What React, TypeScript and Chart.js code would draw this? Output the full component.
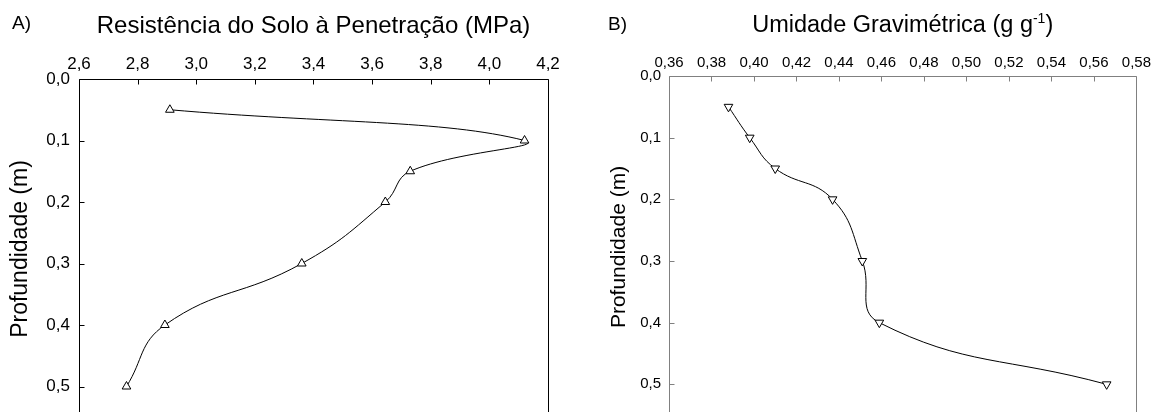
import React, { useEffect, useRef } from 'react';
import { Chart, registerables } from 'chart.js';

Chart.register(...registerables);

// ---------- data ----------
const depths = [0.05, 0.1, 0.15, 0.2, 0.3, 0.4, 0.5];
const resistance = [2.91, 4.12, 3.73, 3.645, 3.36, 2.893, 2.762];
const moisture = [0.388, 0.398, 0.41, 0.437, 0.451, 0.459, 0.566];

const depthTicks = [0, 0.1, 0.2, 0.3, 0.4, 0.5, 0.6];
const resistanceTicks = [2.6, 2.8, 3.0, 3.2, 3.4, 3.6, 3.8, 4.0, 4.2];
const moistureTicks = [0.36, 0.38, 0.4, 0.42, 0.44, 0.46, 0.48, 0.5, 0.52, 0.54, 0.56, 0.58];

const panelLabelA = 'A)';
const panelLabelB = 'B)';
const titleA = 'Resistência do Solo à Penetração (MPa)';
const titleBMain = 'Umidade Gravimétrica (g g';
const titleBSup = '-1';
const titleBEnd = ')';
const depthTitle = 'Profundidade (m)';

const FONT = '"Liberation Sans", Arial, Helvetica, sans-serif';

const fmt = (d: number) => (v: number | string) => Number(v).toFixed(d).replace('.', ',');

type Spec = {
  xs: number[];
  xTicks: number[];
  xDec: number;
  width: number;
  height: number;
  area: { left: number; top: number; right: number; bottom: number };
  tickFont: number;
  frameColor: string;
  rotation: number;
  xPad: number;
  yPad: number;
  drawText: (ctx: CanvasRenderingContext2D, a: any) => void;
};

function makeConfig(s: Spec): any {
  const frame = {
    id: 'frame',
    afterDatasetsDraw(chart: any) {
      const { ctx, chartArea: a, scales } = chart;
      ctx.save();
      ctx.strokeStyle = s.frameColor;
      ctx.lineWidth = 1;
      const L = Math.round(a.left) + 0.5;
      const T = Math.round(a.top) + 0.5;
      const R = Math.round(a.right) + 0.5;
      const B = Math.round(a.bottom) + 0.5;
      ctx.beginPath();
      ctx.moveTo(L, B);
      ctx.lineTo(L, T);
      ctx.lineTo(R, T);
      ctx.lineTo(R, B);
      ctx.lineTo(L, B);
      for (const v of s.xTicks) {
        const px = Math.round(scales.x.getPixelForValue(v)) + 0.5;
        ctx.moveTo(px, T);
        ctx.lineTo(px, T + 5);
      }
      for (const v of depthTicks) {
        const py = Math.round(scales.y.getPixelForValue(v)) + 0.5;
        ctx.moveTo(L, py);
        ctx.lineTo(L + 5, py);
      }
      ctx.stroke();
      ctx.restore();
    },
  };
  const texts = {
    id: 'texts',
    afterDraw(chart: any) {
      const { ctx, chartArea } = chart;
      ctx.save();
      ctx.fillStyle = '#000';
      s.drawText(ctx, chartArea);
      ctx.restore();
    },
  };
  const a = s.area;
  return {
    type: 'scatter',
    data: {
      datasets: [
        {
          data: s.xs.map((x, i) => ({ x, y: depths[i] })),
          showLine: true,
          tension: 0.45,
          borderColor: '#000',
          borderWidth: 1,
          pointStyle: 'triangle',
          pointRadius: 5,
          pointHoverRadius: 5,
          pointRotation: s.rotation,
          pointBackgroundColor: '#fff',
          pointBorderColor: '#000',
          pointBorderWidth: 1,
        },
      ],
    },
    options: {
      animation: false,
      responsive: false,
      devicePixelRatio: 1,
      events: [],
      layout: {
        padding: { left: 0, top: 0, right: s.width - a.right, bottom: s.height - a.bottom },
      },
      plugins: { legend: { display: false }, tooltip: { enabled: false }, title: { display: false } },
      scales: {
        x: {
          type: 'linear',
          position: 'top',
          min: s.xTicks[0],
          max: s.xTicks[s.xTicks.length - 1],
          afterBuildTicks: (sc: any) => {
            sc.ticks = s.xTicks.map((v) => ({ value: v }));
          },
          afterFit: (sc: any) => {
            sc.height = a.top;
          },
          grid: { display: false, drawTicks: false },
          border: { display: false },
          ticks: {
            autoSkip: false,
            maxRotation: 0,
            padding: s.xPad,
            color: '#000',
            font: { family: FONT, size: s.tickFont },
            callback: fmt(s.xDec),
          },
        },
        y: {
          type: 'linear',
          position: 'left',
          reverse: true,
          min: 0,
          max: 0.6,
          afterBuildTicks: (sc: any) => {
            sc.ticks = depthTicks.map((v) => ({ value: v }));
          },
          afterFit: (sc: any) => {
            sc.width = a.left;
          },
          grid: { display: false, drawTicks: false },
          border: { display: false },
          ticks: {
            autoSkip: false,
            padding: s.yPad,
            color: '#000',
            font: { family: FONT, size: s.tickFont },
            callback: fmt(1),
          },
        },
      },
    },
    plugins: [frame, texts],
  };
}

function drawVertical(ctx: CanvasRenderingContext2D, text: string, baselineX: number, centerY: number, size: number) {
  ctx.save();
  ctx.translate(baselineX, centerY);
  ctx.rotate(-Math.PI / 2);
  ctx.font = `${size}px ${FONT}`;
  ctx.textAlign = 'center';
  ctx.textBaseline = 'alphabetic';
  ctx.fillText(text, 0, 0);
  ctx.restore();
}

const specA: Spec = {
  xs: resistance,
  xTicks: resistanceTicks,
  xDec: 1,
  width: 580,
  height: 470,
  area: { left: 79, top: 79, right: 548, bottom: 448 },
  tickFont: 17,
  frameColor: '#000',
  rotation: 0,
  xPad: 4,
  yPad: 9,
  drawText: (ctx, a) => {
    ctx.textBaseline = 'alphabetic';
    ctx.font = `19px ${FONT}`;
    ctx.textAlign = 'left';
    ctx.fillText(panelLabelA, 12, 29);
    ctx.font = `24px ${FONT}`;
    ctx.textAlign = 'center';
    ctx.fillText(titleA, (a.left + a.right) / 2, 33);
    drawVertical(ctx, depthTitle, 26.5, 249, 23);
  },
};

const specB: Spec = {
  xs: moisture,
  xTicks: moistureTicks,
  xDec: 2,
  width: 575,
  height: 470,
  area: { left: 89, top: 76, right: 557, bottom: 446 },
  tickFont: 15,
  frameColor: '#808080',
  rotation: 180,
  xPad: 4,
  yPad: 8,
  drawText: (ctx, a) => {
    ctx.textBaseline = 'alphabetic';
    ctx.font = `19px ${FONT}`;
    ctx.textAlign = 'left';
    ctx.fillText(panelLabelB, 28, 30);
    const main = `23.5px ${FONT}`;
    const sup = `14px ${FONT}`;
    ctx.font = main;
    const w1 = ctx.measureText(titleBMain).width;
    const w3 = ctx.measureText(titleBEnd).width;
    ctx.font = sup;
    const w2 = ctx.measureText(titleBSup).width;
    const total = w1 + w2 + w3;
    let x = (a.left + a.right) / 2 - total / 2;
    ctx.font = main;
    ctx.fillText(titleBMain, x, 32);
    x += w1;
    ctx.font = sup;
    ctx.fillText(titleBSup, x, 23);
    x += w2;
    ctx.font = main;
    ctx.fillText(titleBEnd, x, 32);
    drawVertical(ctx, depthTitle, 45, 247, 21);
  },
};

function Panel({ spec, left }: { spec: Spec; left: number }) {
  const ref = useRef<HTMLCanvasElement | null>(null);
  useEffect(() => {
    if (!ref.current) return;
    const chart = new Chart(ref.current, makeConfig(spec));
    return () => chart.destroy();
  }, [spec]);
  return (
    <canvas
      ref={ref}
      width={spec.width}
      height={spec.height}
      style={{ position: 'absolute', left, top: 0, width: spec.width, height: spec.height }}
    />
  );
}

export default function App() {
  return (
    <div style={{ position: 'absolute', left: 0, top: 0, width: 1155, height: 470, background: '#fff' }}>
      <Panel spec={specA} left={0} />
      <Panel spec={specB} left={580} />
    </div>
  );
}
